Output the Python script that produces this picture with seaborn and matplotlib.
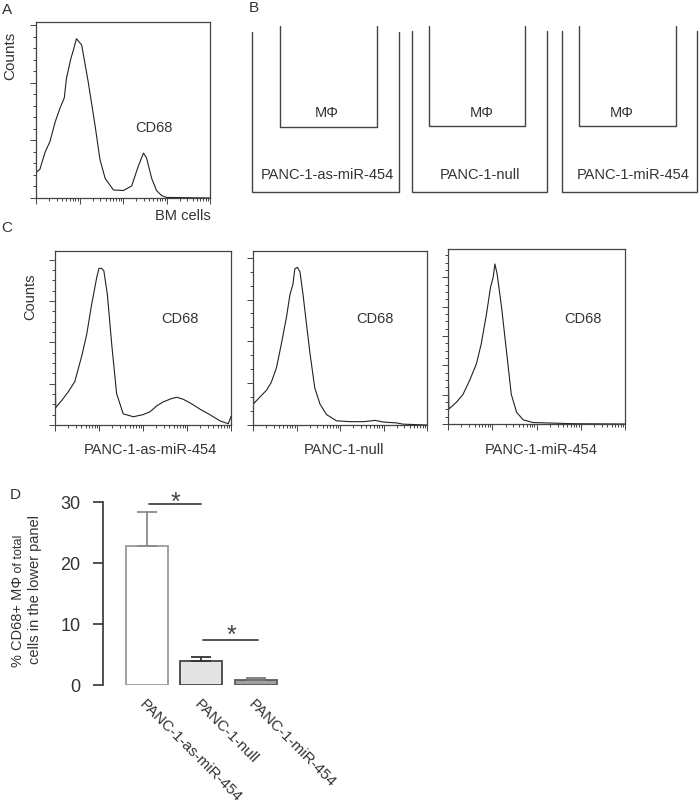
import numpy as np
import pandas as pd
import matplotlib
matplotlib.use("Agg")
import matplotlib.pyplot as plt
from matplotlib.ticker import LogLocator, MultipleLocator, NullFormatter
import seaborn as sns

sns.set_theme(style="ticks")
plt.rcParams['font.family'] = ['Liberation Sans', 'DejaVu Sans']

# ---------------- data ----------------
# Panel A: BM cells histogram (log10 intensity, counts)
a_log = [0.0, 0.01, 0.09, 0.21, 0.32, 0.44, 0.55, 0.65, 0.70, 0.80, 0.87, 0.93, 1.05, 1.20,
         1.36, 1.47, 1.59, 1.78, 2.01, 2.20, 2.35, 2.47, 2.54, 2.66, 2.77, 2.89, 3.0, 4.0]
a_counts = [260, 45, 50, 80, 98, 132, 156, 174, 208, 242, 260, 277, 266, 202,
            125, 67, 34, 14, 13, 21, 55, 78, 70, 34, 13, 4, 1, 0]

# Panel C histograms
c1_log = [0.0, 0.015, 0.15, 0.30, 0.45, 0.61, 0.72, 0.83, 0.95, 1.0, 1.06, 1.11, 1.19, 1.29, 1.40,
          1.55, 1.78, 2.0, 2.16, 2.31, 2.46, 2.65, 2.77, 2.92, 3.11, 3.30, 3.52, 3.75, 3.94, 4.0]
c1_counts = [215, 42, 59, 80, 105, 168, 219, 290, 358, 379, 379, 373, 316, 194, 76,
             27, 20, 25, 32, 46, 56, 64, 67, 62, 51, 38, 25, 10, 3, 21]
c2_log = [0.0, 0.015, 0.15, 0.31, 0.42, 0.54, 0.65, 0.77, 0.85, 0.92, 0.96, 1.02, 1.08, 1.15,
          1.23, 1.31, 1.42, 1.54, 1.69, 1.92, 2.23, 2.54, 2.81, 3.0, 3.3, 3.45, 4.0]
c2_counts = [229, 51, 66, 83, 102, 137, 193, 258, 312, 337, 373, 377, 366, 312,
             241, 171, 89, 50, 25, 10, 8, 8, 11, 7, 5, 2, 0]
c3_log = [0.0, 0.02, 0.19, 0.34, 0.49, 0.64, 0.75, 0.87, 0.96, 1.02, 1.06, 1.11, 1.21, 1.32,
          1.43, 1.55, 1.70, 1.92, 2.83, 4.0]
c3_counts = [238, 51, 74, 101, 149, 204, 272, 375, 465, 499, 545, 511, 398, 250,
             101, 40, 14, 5, 1, 0]
c_labels = ["PANC-1-as-miR-454", "PANC-1-null", "PANC-1-miR-454"]

# Panel D bar chart
d_cats = ["PANC-1-as-miR-454", "PANC-1-null", "PANC-1-miR-454"]
d_means = [22.8, 3.9, 0.75]
d_errs = [5.6, 0.7, 0.35]
d_ticks = [0, 10, 20, 30]

# ---------------- layout helpers ----------------
W, H = 700, 804
fig = plt.figure(figsize=(W / 100, H / 100), dpi=100)
fig.patch.set_facecolor("white")


def rect(x0, y0, x1, y1):
    return [x0 / W, 1 - y1 / H, (x1 - x0) / W, (y1 - y0) / H]


def ftext(x, y, s, **kw):
    kw.setdefault("color", "#333333")
    kw.setdefault("ha", "center")
    kw.setdefault("va", "center")
    return fig.text(x / W, 1 - y / H, s, **kw)


EDGE = "#444444"


def histo(box, logs, counts, ytop, major, minor):
    ax = fig.add_axes(rect(*box))
    df = pd.DataFrame({"x": 10 ** np.array(logs), "y": counts})
    sns.lineplot(data=df, x="x", y="y", ax=ax, color="#222222", lw=0.8,
                 sort=False, estimator=None)
    ax.set_xscale("log")
    ax.set_xlim(1, 1e4)
    ax.set_ylim(0, ytop)
    ax.xaxis.set_major_locator(LogLocator(base=10, numticks=10))
    ax.xaxis.set_minor_locator(LogLocator(base=10, subs=np.arange(2, 10), numticks=100))
    ax.xaxis.set_minor_formatter(NullFormatter())
    ax.yaxis.set_major_locator(MultipleLocator(major))
    ax.yaxis.set_minor_locator(MultipleLocator(minor))
    ax.tick_params(which="both", labelleft=False, labelbottom=False, direction="out",
                   color=EDGE, width=0.7)
    ax.tick_params(which="major", length=4)
    ax.tick_params(which="minor", length=2.2)
    ax.set_xlabel("")
    ax.set_ylabel("")
    for sp in ax.spines.values():
        sp.set_visible(True)
        sp.set_color(EDGE)
        sp.set_linewidth(0.9)
    return ax


# ---------------- Panel A ----------------
histo((36, 23, 210, 199), a_log, a_counts, 306, 100, 20)
ftext(7, 10, "A", fontsize=11)
ftext(10, 56, "Counts", rotation=90, fontsize=11)
ftext(154, 128, "CD68", fontsize=10.5)
ftext(183, 216, "BM cells", fontsize=10.5)

# ---------------- Panel B (schematic) ----------------
ov = fig.add_axes([0, 0, 1, 1], zorder=-1)
ov.set_xlim(0, W)
ov.set_ylim(H, 0)
ov.axis("off")
wells = [
    ((252, 33, 399, 193), (280, 27, 377, 128), 327, 327),
    ((412, 32, 547, 193), (429, 27, 525, 127), 482, 480),
    ((562, 32, 697, 193), (579, 27, 676, 127), 622, 633),
]
for (o, i, mx, lx), lab in zip(wells, c_labels):
    ov.plot([o[0], o[0], o[2], o[2]], [o[1], o[3], o[3], o[1]], color=EDGE, lw=1.0)
    ov.plot([i[0], i[0], i[2], i[2]], [i[1], i[3], i[3], i[1]], color=EDGE, lw=1.0)
    ftext(mx, 113, "MΦ", fontsize=10.5)
    ftext(lx, 175, lab, fontsize=10.5)
ftext(254, 8, "B", fontsize=11)

# ---------------- Panel C ----------------
histo((55, 252, 231, 426), c1_log, c1_counts, 421, 100, 25)
histo((253, 252, 427, 426), c2_log, c2_counts, 416, 100, 100 / 3)
histo((448, 250, 625, 425), c3_log, c3_counts, 596, 100, 25)
ftext(7, 228, "C", fontsize=11)
ftext(30, 297, "Counts", rotation=90, fontsize=10.5)
for x in (180, 375, 583):
    ftext(x, 319, "CD68", fontsize=10.5)
for x, lab in zip((150, 344, 541), c_labels):
    ftext(x, 450, lab, fontsize=10.5)

# ---------------- Panel D ----------------
axd = fig.add_axes(rect(103, 503, 300, 686))
ddf = pd.DataFrame({"cat": d_cats, "val": d_means})
face = ["#ffffff", "#e4e4e4", "#a0a0a0"]
edges = ["#9a9a9a", "#444444", "#5a5a5a"]
errc = ["#8a8a8a", "#333333", "#777777"]
sns.barplot(data=ddf, x="cat", y="val", hue="cat", palette=face, legend=False,
            width=0.77, ax=axd, errorbar=None)
for p, ec in zip(axd.patches, edges):
    p.set_edgecolor(ec)
    p.set_linewidth(1.3)
for i in range(len(d_cats)):
    axd.errorbar(i, d_means[i], yerr=[[0], [d_errs[i]]], fmt="none", ecolor=errc[i],
                 elinewidth=1.3, capsize=7.5, capthick=1.3, zorder=1)
axd.set_xlim(-0.807, 2.81)
axd.set_ylim(0, 30)
axd.set_yticks(d_ticks)
axd.set_xlabel("")
axd.set_ylabel("")
sns.despine(ax=axd, bottom=True)
axd.spines["left"].set_color("#333333")
axd.spines["left"].set_linewidth(1.2)
axd.tick_params(axis="y", length=7.2, width=1.2, color="#333333", pad=9,
                labelsize=13, labelcolor="#333333")
axd.tick_params(axis="x", length=0, pad=8, labelsize=11, labelcolor="#333333")
axd.set_xticks(range(len(d_cats)))
axd.set_xticklabels(d_cats, rotation=-45, ha="left", va="top", rotation_mode="anchor")
for lab in axd.get_xticklabels():
    lab.set_clip_on(False)

# significance markers
axd.plot([0.04, 1.0], [29.7, 29.7], color="#444444", lw=1.3, clip_on=False)
axd.text(0.53, 28.9, "*", ha="center", va="baseline", fontsize=18, color="#444444")
axd.plot([1.03, 2.04], [7.4, 7.4], color="#444444", lw=1.3, clip_on=False)
axd.text(1.56, 7.1, "*", ha="center", va="baseline", fontsize=18, color="#444444")

ftext(15, 495, "D", fontsize=11)
renderer = fig.canvas.get_renderer()
t1 = ftext(18, 667, "% CD68+ MΦ", rotation=90, va="bottom", fontsize=10.5)
bb = t1.get_window_extent(renderer)
ftext(18.5, H - bb.y1, " of total", rotation=90, va="bottom", fontsize=9)
ftext(35, 590, "cells in the lower panel", rotation=90, fontsize=10.5)

fig.savefig("out.png", dpi=100, facecolor="white")
